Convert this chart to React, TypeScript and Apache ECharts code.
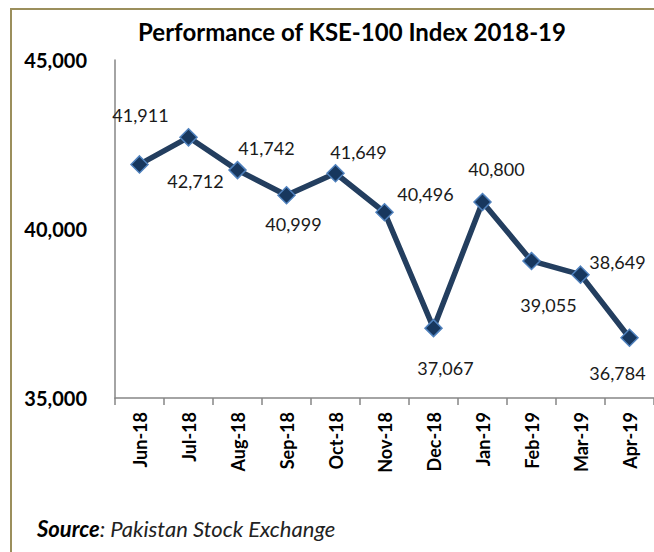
import React, { useEffect, useRef } from "react";
import * as echarts from "echarts";

const categories = ["Jun-18", "Jul-18", "Aug-18", "Sep-18", "Oct-18", "Nov-18", "Dec-18", "Jan-19", "Feb-19", "Mar-19", "Apr-19"];
const values = [41911, 42712, 41742, 40999, 41649, 40496, 37067, 40800, 39055, 38649, 36784];
const yTicks = { min: 35000, max: 45000, interval: 5000 };
const titleText = "Performance of KSE-100 Index 2018-19";
const sourceLabel = "Source";
const sourceText = ": Pakistan Stock Exchange";

// label offsets (layout only), relative to each point
const labelOffsets: [number, number][] = [
  [1, -49], [7, 44], [29, -22], [7, 29], [23, -21], [41, -18], [12, 40], [14, -33], [17, 44], [37, -13], [-12, 35],
];

const fmt = (v: number) => v.toLocaleString("en-US");

export default function App() {
  const ref = useRef<HTMLDivElement>(null);
  useEffect(() => {
    document.body.style.margin = "0";
    const chart = echarts.init(ref.current!, null, { renderer: "svg" });
    const font = "Lato, 'Open Sans', sans-serif";
    chart.setOption({
      animation: false,
      backgroundColor: "#ffffff",
      grid: { left: 115, right: 0, top: 60, bottom: 154, containLabel: false },
      xAxis: {
        type: "category",
        data: categories,
        boundaryGap: true,
        axisLine: { lineStyle: { color: "#868686", width: 1.5 } },
        axisTick: { show: true, length: 7, lineStyle: { color: "#868686", width: 1.5 } },
        axisLabel: { rotate: 90, margin: 14, fontFamily: font, fontWeight: "bold", fontSize: 18, color: "#000" },
        splitLine: { show: false },
      },
      yAxis: {
        type: "value",
        min: yTicks.min,
        max: yTicks.max,
        interval: yTicks.interval,
        axisLine: { show: true, lineStyle: { color: "#868686", width: 1.5 } },
        axisTick: { show: false },
        splitLine: { show: false },
        axisLabel: { margin: 28, fontFamily: font, fontWeight: "bold", fontSize: 20, color: "#000", formatter: (v: number) => fmt(v) },
      },
      series: [
        {
          type: "line",
          data: values.map((v, i) => ({
            value: v,
            label: { offset: labelOffsets[i] },
          })),
          symbol: "diamond",
          symbolSize: 17,
          lineStyle: { color: "#233e5f", width: 5.5 },
          itemStyle: { color: "#17375e", borderColor: "#4f81bd", borderWidth: 1.5 },
          label: {
            show: true,
            position: "inside",
            align: "center",
            verticalAlign: "middle",
            fontFamily: font,
            fontSize: 18,
            color: "#1a1a1a",
            formatter: (p: any) => fmt(p.value),
          },
          z: 3,
        },
      ],
      graphic: [
        {
          type: "polyline",
          shape: { points: [[11, 600], [11, 9], [700, 9]] },
          style: { stroke: "#9b8f5c", lineWidth: 2, fill: "none" },
          silent: true,
        },
        {
          type: "text",
          x: 352,
          y: 31,
          style: { text: titleText, font: `bold 24px ${font}`, fill: "#000", textAlign: "center", textVerticalAlign: "middle" },
        },
        {
          type: "text",
          x: 37,
          y: 528,
          style: {
            text: `{b|${sourceLabel}}{i|${sourceText}}`,
            textVerticalAlign: "middle",
            rich: {
              b: { fontFamily: font, fontWeight: "bold", fontStyle: "italic", fontSize: 22, fill: "#000" },
              i: { fontFamily: font, fontStyle: "italic", fontSize: 22, fill: "#222" },
            },
          },
        },
      ],
    });
    return () => chart.dispose();
  }, []);
  return <div ref={ref} style={{ width: 654, height: 552 }} />;
}
